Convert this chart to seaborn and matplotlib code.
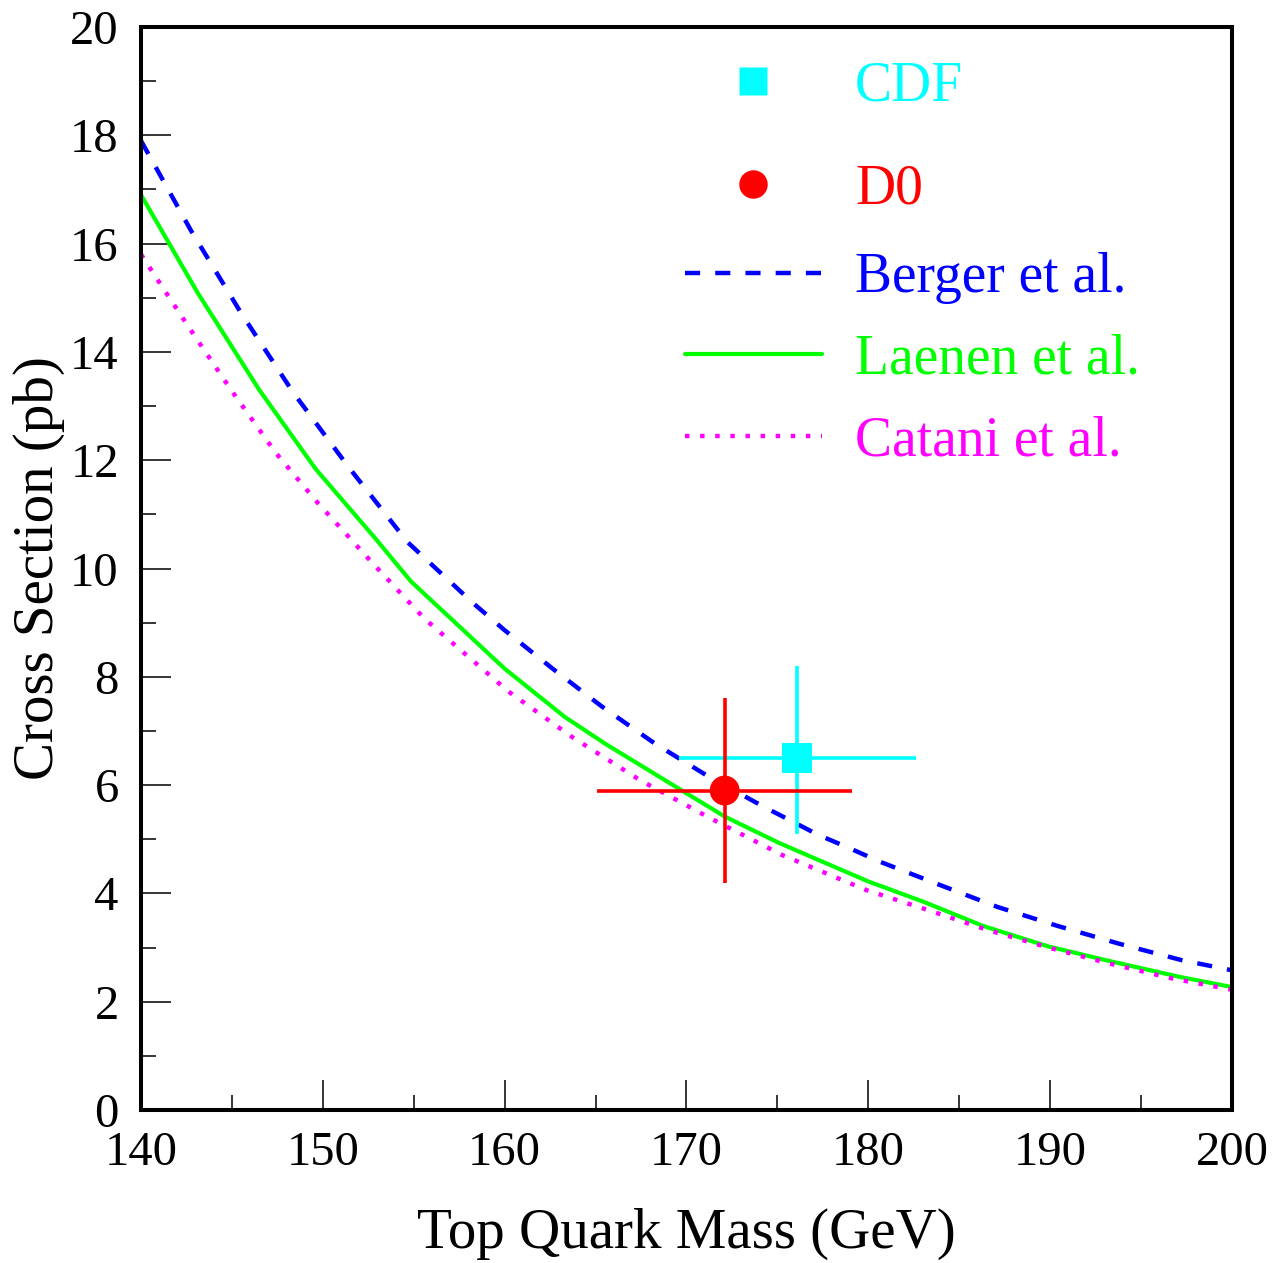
import numpy as np
import pandas as pd
import matplotlib
matplotlib.use("Agg")
import matplotlib.pyplot as plt
from matplotlib.lines import Line2D
from matplotlib.ticker import MultipleLocator
import seaborn as sns

# ---- data ----
berger_mass = [140, 142.75, 145.5, 148.35, 151.4, 154.65, 158.3, 160, 162.6, 165.35, 168.25,
               171.2, 174.25, 177.25, 179.0, 180.6, 183.9, 187.1, 190.4, 193.8, 197.2, 200]
berger_xs = [17.9, 16.24, 14.72, 13.26, 11.88, 10.49, 9.35, 8.86, 8.16, 7.45, 6.77,
             6.16, 5.60, 5.08, 4.83, 4.59, 4.16, 3.75, 3.40, 3.07, 2.77, 2.58]

laenen_mass = [140, 143.1, 146.5, 149.6, 152.8, 154.85, 160.0, 163.3, 165.5, 169.55, 172.1,
               175.1, 180.0, 183.0, 186.3, 189.9, 193.4, 197.1, 200]
laenen_xs = [16.9, 15.1, 13.3, 11.84, 10.59, 9.76, 8.15, 7.26, 6.77, 5.94, 5.42,
             4.93, 4.22, 3.85, 3.40, 3.02, 2.74, 2.46, 2.27]

catani_mass = [140, 142.5, 144.95, 147.4, 149.7, 152.65, 155.6, 158.9, 160.2, 163.7, 167.45,
               171.3, 175.25, 179.9, 183.3, 186.6, 189.9, 193.2, 196.7, 200]
catani_xs = [15.8, 14.52, 13.3, 12.14, 11.22, 10.13, 9.07, 8.11, 7.73, 6.89, 6.09,
             5.39, 4.71, 4.06, 3.69, 3.32, 3.00, 2.71, 2.43, 2.22]

cdf_mass, cdf_mass_err = 176.1, 6.5
cdf_xs, cdf_xs_lo, cdf_xs_hi = 6.5, 1.4, 1.7
d0_mass, d0_mass_err = 172.1, 7.0
d0_xs, d0_xs_err = 5.9, 1.7

legend_points = ["CDF", "D0"]
legend_lines = ["Berger et al.", "Laenen et al.", "Catani et al."]

# ---- style ----
sns.set_style("ticks")
plt.rcParams["font.family"] = ["Liberation Serif", "DejaVu Serif"]
plt.rcParams["font.size"] = 35
plt.rcParams["axes.labelcolor"] = "black"
plt.rcParams["text.color"] = "black"

BLUE, GREEN, MAGENTA, CYAN, RED = "#0000ff", "#00ff00", "#ff00ff", "#00ffff", "#ff0000"
DASH = (0, (3.4, 3.4))
DOT = (0, (1, 2.4))

fig = plt.figure(figsize=(12.75, 12.63), dpi=100)
ax = fig.add_axes([141 / 1275, 1 - 1110 / 1263, (1232 - 141) / 1275, (1110 - 27) / 1263])

sns.lineplot(x=berger_mass, y=berger_xs, ax=ax, color=BLUE, lw=3.2, linestyle=DASH)
sns.lineplot(x=laenen_mass, y=laenen_xs, ax=ax, color=GREEN, lw=3.0)
sns.lineplot(x=catani_mass, y=catani_xs, ax=ax, color=MAGENTA, lw=3.2, linestyle=DOT)
for ln in ax.lines:
    ln.set_dash_capstyle("butt")
    ln.set_solid_joinstyle("round")

# error bars + markers
ax.errorbar([cdf_mass], [cdf_xs], xerr=[[cdf_mass_err], [cdf_mass_err]],
            yerr=[[cdf_xs_lo], [cdf_xs_hi]], fmt="none", ecolor=CYAN,
            elinewidth=2.6, capsize=0, zorder=4)
ax.errorbar([d0_mass], [d0_xs], xerr=[[d0_mass_err], [d0_mass_err]],
            yerr=[[d0_xs_err], [d0_xs_err]], fmt="none", ecolor=RED,
            elinewidth=2.6, capsize=0, zorder=4)
sns.scatterplot(x=[cdf_mass], y=[cdf_xs], ax=ax, marker="s", s=21.5 ** 2,
                color=CYAN, edgecolor="none", zorder=5)
sns.scatterplot(x=[d0_mass], y=[d0_xs], ax=ax, marker="o", s=21.5 ** 2,
                color=RED, edgecolor="none", zorder=5)

ax.set_xlim(140, 200)
ax.set_ylim(0, 20)
ax.xaxis.set_major_locator(MultipleLocator(10))
ax.xaxis.set_minor_locator(MultipleLocator(5))
ax.yaxis.set_major_locator(MultipleLocator(2))
ax.yaxis.set_minor_locator(MultipleLocator(1))
ax.tick_params(which="both", direction="in", top=False, right=False, width=1.1,
               colors="black", labelsize=35)
ax.tick_params(which="major", length=21.6)
ax.tick_params(which="minor", length=10.8)
ax.tick_params(axis="y", which="major", pad=16)
ax.tick_params(axis="x", which="major", pad=15)
for s in ax.spines.values():
    s.set_linewidth(2.9)
    s.set_color("black")
    s.set_visible(True)

ax.set_xlabel("Top Quark Mass (GeV)", fontsize=41, labelpad=24, color="black")
ax.set_ylabel("Cross Section (pb)", fontsize=41, labelpad=4, color="black")

# legends
h_pts = [Line2D([], [], ls="none", marker="s", ms=20.5, color=CYAN, mec="none"),
         Line2D([], [], ls="none", marker="o", ms=20.5, color=RED, mec="none")]
leg1 = ax.legend(h_pts, legend_points, loc="upper left", bbox_to_anchor=(0.4986, 0.969),
                 frameon=False, fontsize=40, handlelength=2.46, handletextpad=0.6,
                 labelspacing=0.92, borderpad=0, borderaxespad=0,
                 labelcolor=[CYAN, RED])
ax.add_artist(leg1)
h_lines = [Line2D([], [], color=BLUE, lw=3.2, ls=DASH, dash_capstyle="butt"),
           Line2D([], [], color=GREEN, lw=3.0),
           Line2D([], [], color=MAGENTA, lw=3.2, ls=DOT, dash_capstyle="butt")]
ax.legend(h_lines, legend_lines, loc="upper left",
          bbox_to_anchor=(0.4986, 0.792), frameon=False, fontsize=40, handlelength=2.46,
          handletextpad=0.6, labelspacing=0.53, borderpad=0, borderaxespad=0,
          labelcolor=[BLUE, GREEN, MAGENTA])

fig.savefig("out.png", dpi=100)
